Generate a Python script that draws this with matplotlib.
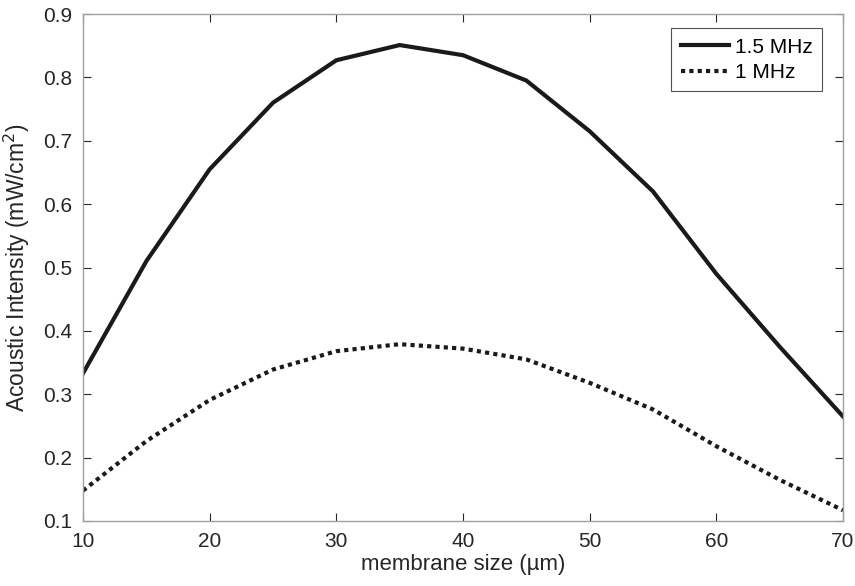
import matplotlib
matplotlib.use("Agg")
import matplotlib.pyplot as plt

plt.rcParams['font.family'] = ['Liberation Sans', 'DejaVu Sans']

membrane_size = [10, 15, 20, 25, 30, 35, 40, 45, 50, 55, 60, 65, 70]
intensity_15mhz = [0.333, 0.51, 0.655, 0.76, 0.827, 0.851, 0.835, 0.795, 0.715, 0.62, 0.49, 0.375, 0.265]
intensity_1mhz = [0.148, 0.226, 0.291, 0.339, 0.368, 0.379, 0.372, 0.355, 0.318, 0.276, 0.218, 0.165, 0.117]

fig = plt.figure(figsize=(8.55, 5.86), dpi=100)
ax = fig.add_axes([83/855, 1-521/586, (843-83)/855, (521-14)/586])

ax.plot(membrane_size, intensity_15mhz, color='#1a1a1a', lw=3, label='1.5 MHz')
ax.plot(membrane_size, intensity_1mhz, color='#1a1a1a', lw=3, linestyle=(0, (1, 1)), label='1 MHz')

ax.set_xlim(10, 70)
ax.set_ylim(0.1, 0.9)
ax.set_xticks([10, 20, 30, 40, 50, 60, 70])
ax.set_yticks([0.1, 0.2, 0.3, 0.4, 0.5, 0.6, 0.7, 0.8, 0.9])
ax.set_yticklabels(['0.1', '0.2', '0.3', '0.4', '0.5', '0.6', '0.7', '0.8', '0.9'])
ax.tick_params(direction='in', length=6, width=0.8, colors='#262626', labelsize=15,
               top=True, right=True, pad=8)
for s in ax.spines.values():
    s.set_color('#a0a0a0')
    s.set_linewidth(1.0)

ax.set_xlabel('membrane size (µm)', fontsize=16, color='#262626', labelpad=2)
ax.set_ylabel('Acoustic Intensity (mW/cm$^2$)', fontsize=16.5, color='#262626', labelpad=8)

leg = ax.legend(loc='upper right', bbox_to_anchor=(0.9725, 0.972), borderaxespad=0,
                fontsize=15, frameon=True,
                fancybox=False, edgecolor='#262626', handlelength=2.3, handletextpad=0.3,
                borderpad=0.45, labelspacing=0.3)
leg.get_frame().set_linewidth(0.8)

fig.savefig('out.png', dpi=100)
